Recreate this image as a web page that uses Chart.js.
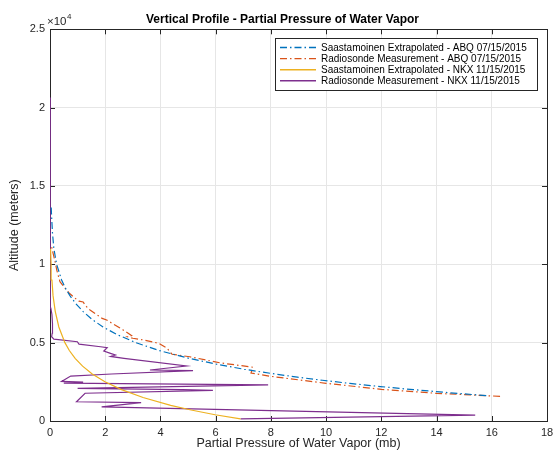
<!DOCTYPE html>
<html>
<head>
<meta charset="utf-8">
<script src="https://cdn.jsdelivr.net/npm/chart.js@4.4.1/dist/chart.umd.min.js"></script>
<style>
  html, body { margin: 0; padding: 0; background: #fff; }
  #wrap { width: 553px; height: 452px; }
</style>
</head>
<body>
<div id="wrap"><canvas id="vaporChart"></canvas></div>
<script>
// Saastamoinen extrapolated - ABQ 07/15/2015 (altitude m, partial pressure mb)
const abqModelAlt = [1620, 1800, 2000, 2200, 2400, 2600, 2800, 3000, 3300, 3600, 4000, 4500, 5000, 5500, 6000, 6500, 7000, 7500, 8000, 8500, 9000, 10000, 11000, 12000, 13000, 13800];
const abqModelPp = [15.8, 14.5, 13.16, 11.96, 10.86, 9.86, 8.96, 8.14, 7.04, 6.1, 5.03, 3.95, 3.11, 2.45, 1.92, 1.51, 1.19, 0.93, 0.72, 0.55, 0.42, 0.24, 0.14, 0.09, 0.06, 0.04];

// Radiosonde measurement - ABQ 07/15/2015
const abqSondeAlt = [1575, 1766, 2021, 2404, 2850, 3060, 3430, 3470, 3700, 4100, 4260, 4640, 4960, 5170, 5280, 5380, 5450, 5810, 6447, 6550, 7085, 7350, 7600, 7650, 7720, 8170, 8890, 9600, 10200, 10800, 11200];
const abqSondePp = [16.3, 14.0, 12.0, 10.0, 8.0, 7.28, 7.35, 7.2, 6.2, 5.06, 4.42, 4.24, 3.94, 3.4, 3.0, 2.8, 2.95, 2.65, 2.05, 1.89, 1.45, 1.29, 1.2, 1.05, 0.99, 0.69, 0.36, 0.25, 0.18, 0.1, 0.05];

// Saastamoinen extrapolated - NKX 11/15/2015
const nkxModelAlt = [130, 400, 700, 1000, 1500, 2000, 2500, 3000, 3500, 4000, 4500, 5000, 6000, 7000, 8000, 9000, 10000, 11000];
const nkxModelPp = [6.9, 5.98, 5.11, 4.37, 3.37, 2.59, 1.99, 1.53, 1.18, 0.91, 0.7, 0.54, 0.32, 0.19, 0.11, 0.07, 0.04, 0.02];

// Radiosonde measurement - NKX 11/15/2015
const nkxSondeAlt = [130, 380, 900, 1170, 1230, 1770, 1950, 2000, 2080, 2300, 2420, 2480, 2530, 2870, 3000, 3210, 3255, 3510, 4000, 4120, 4210, 4320, 4470, 4680, 4740, 4910, 5060, 5230, 5380, 5600, 6200, 6800, 7200, 8000, 10000, 13000, 16000, 20650];
const nkxSondePp = [6.9, 15.4, 1.87, 3.3, 0.96, 1.27, 5.9, 4.8, 1.0, 7.9, 0.5, 1.2, 0.42, 0.75, 2.23, 5.18, 3.62, 4.94, 2.68, 2.2, 2.37, 2.19, 1.95, 2.07, 1.83, 1.05, 0.99, 0.14, 0.06, 0.08, 0.09, 0.07, 0.03, 0.02, 0.015, 0.01, 0.005, 0.002];

const xTicks = [0, 2, 4, 6, 8, 10, 12, 14, 16, 18];
const yTicks = [0, 5000, 10000, 15000, 20000, 25000];
const yTickLabels = ["0", "0.5", "1", "1.5", "2", "2.5"];

const seriesNames = [
  "Saastamoinen Extrapolated - ABQ 07/15/2015",
  "Radiosonde Measurement - ABQ 07/15/2015",
  "Saastamoinen Extrapolated - NKX 11/15/2015",
  "Radiosonde Measurement - NKX 11/15/2015",
];
const chartTitle = "Vertical Profile - Partial Pressure of Water Vapor";

const FONT = "'Liberation Sans', Arial, Helvetica, sans-serif";
const dashDot = [7, 3, 1.5, 3];

function toPoints(pp, alt) {
  return pp.map((v, i) => ({ x: v, y: alt[i] }));
}

function makeSet(label, pp, alt, color, dash) {
  return {
    label: label,
    data: toPoints(pp, alt),
    showLine: true,
    borderColor: color,
    backgroundColor: color,
    borderWidth: 1.2,
    borderDash: dash,
    pointRadius: 0,
    tension: 0,
  };
}

// box, inward ticks, exponent label, title and legend, drawn the MATLAB way
const matlabAxes = {
  id: "matlabAxes",
  beforeDatasetsDraw(chart) {
    const { ctx, chartArea: a, scales: { x, y } } = chart;
    ctx.save();
    ctx.strokeStyle = "#262626";
    ctx.lineWidth = 1;
    ctx.beginPath();
    xTicks.forEach((v) => {
      const px = Math.round(x.getPixelForValue(v)) + 0.5;
      ctx.moveTo(px, a.bottom); ctx.lineTo(px, a.bottom - 5);
      ctx.moveTo(px, a.top); ctx.lineTo(px, a.top + 5);
    });
    yTicks.forEach((v) => {
      const py = Math.round(y.getPixelForValue(v)) + 0.5;
      ctx.moveTo(a.left, py); ctx.lineTo(a.left + 5, py);
      ctx.moveTo(a.right, py); ctx.lineTo(a.right - 5, py);
    });
    ctx.stroke();
    ctx.strokeRect(Math.round(a.left) + 0.5, Math.round(a.top) + 0.5,
      Math.round(a.right - a.left), Math.round(a.bottom - a.top));

    // x10^4 exponent
    ctx.fillStyle = "#262626";
    ctx.textBaseline = "alphabetic";
    ctx.textAlign = "left";
    ctx.font = "11.5px " + FONT;
    ctx.fillText("\u00d710", a.left - 3, a.top - 4);
    const w = ctx.measureText("\u00d710").width;
    ctx.font = "8px " + FONT;
    ctx.fillText("4", a.left - 3 + w + 0.5, a.top - 10);

    // title
    ctx.fillStyle = "#000";
    ctx.textAlign = "center";
    ctx.textBaseline = "middle";
    ctx.font = "bold 12px " + FONT;
    ctx.fillText(chartTitle, 282.5, 19.5);
    ctx.restore();
  },
  afterDraw(chart) {
    const { ctx } = chart;
    const left = 275, top = 38, right = 537, bottom = 90;
    ctx.save();
    ctx.fillStyle = "#fff";
    ctx.fillRect(left, top, right - left, bottom - top);
    ctx.strokeStyle = "#262626";
    ctx.lineWidth = 1;
    ctx.strokeRect(left + 0.5, top + 0.5, right - left, bottom - top);
    ctx.font = "10px " + FONT;
    ctx.textBaseline = "middle";
    ctx.textAlign = "left";
    chart.data.datasets.forEach((ds, i) => {
      const yy = 47.5 + i * 11.1;
      ctx.strokeStyle = ds.borderColor;
      ctx.lineWidth = 1.4;
      ctx.setLineDash(ds.borderDash || []);
      ctx.beginPath();
      ctx.moveTo(280, yy);
      ctx.lineTo(316, yy);
      ctx.stroke();
      ctx.setLineDash([]);
      ctx.fillStyle = "#000";
      ctx.fillText(ds.label, 321, yy + 0.5);
    });
    ctx.restore();
  },
};

const ctx = document.getElementById("vaporChart").getContext("2d");
const vaporChart = new Chart(ctx, {
  type: "scatter",
  data: {
    datasets: [
      makeSet(seriesNames[0], abqModelPp, abqModelAlt, "#0072BD", dashDot),
      makeSet(seriesNames[1], abqSondePp, abqSondeAlt, "#D95319", dashDot),
      makeSet(seriesNames[2], nkxModelPp, nkxModelAlt, "#EDB120", []),
      makeSet(seriesNames[3], nkxSondePp, nkxSondeAlt, "#7E2F8E", []),
    ],
  },
  options: {
    responsive: true,
    maintainAspectRatio: false,
    animation: false,
    layout: { padding: { left: 0, right: 6, top: 29.3, bottom: 0 } },
    scales: {
      x: {
        type: "linear",
        min: 0,
        max: 18,
        afterBuildTicks: (s) => { s.ticks = xTicks.map((v) => ({ value: v })); },
        afterFit: (s) => { s.height = 31; s.paddingLeft = 0; s.paddingRight = 0; },
        grid: { color: "#e6e6e6", drawTicks: false },
        border: { display: false },
        ticks: { color: "#262626", font: { size: 11, family: FONT }, padding: 5, maxRotation: 0 },
        title: {
          display: true,
          text: "Partial Pressure of Water Vapor (mb)",
          color: "#262626",
          font: { size: 12.5, family: FONT },
          padding: { top: 0, bottom: 0.5 },
        },
      },
      y: {
        type: "linear",
        min: 0,
        max: 25000,
        afterBuildTicks: (s) => { s.ticks = yTicks.map((v) => ({ value: v })); },
        afterFit: (s) => { s.width = 50; s.paddingTop = 0; s.paddingBottom = 0; },
        grid: { color: "#e6e6e6", drawTicks: false },
        border: { display: false },
        ticks: {
          color: "#262626",
          font: { size: 11, family: FONT },
          padding: 5,
          callback: (v) => yTickLabels[yTicks.indexOf(v)],
        },
        title: {
          display: true,
          text: "Altitude (meters)",
          color: "#262626",
          font: { size: 12.5, family: FONT },
          padding: { top: 7, bottom: 0 },
        },
      },
    },
    plugins: {
      legend: { display: false },
      tooltip: { enabled: false },
      title: { display: false },
    },
  },
  plugins: [matlabAxes],
});
</script>
</body>
</html>
